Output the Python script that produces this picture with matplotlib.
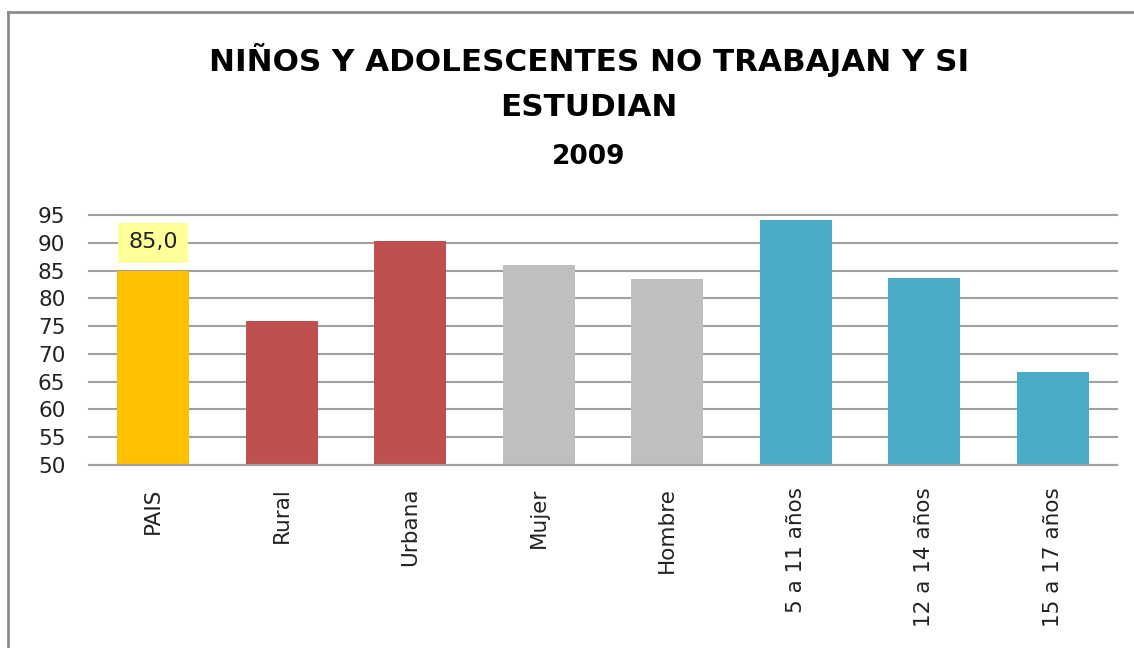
import matplotlib
matplotlib.use("Agg")
import matplotlib.pyplot as plt
from matplotlib.lines import Line2D

categories = ["PAIS", "Rural", "Urbana", "Mujer", "Hombre", "5 a 11 años", "12 a 14 años", "15 a 17 años"]
values = [85.0, 75.9, 90.4, 86.0, 83.5, 94.1, 83.7, 66.7]
colors = ["#FFC000", "#C0504D", "#C0504D", "#BFBFBF", "#BFBFBF", "#4BACC6", "#4BACC6", "#4BACC6"]
yticks = [50, 55, 60, 65, 70, 75, 80, 85, 90, 95]
title_lines = ["NIÑOS Y ADOLESCENTES NO TRABAJAN Y SI", "ESTUDIAN", "2009"]

W, H = 1134, 648
fig = plt.figure(figsize=(W / 100, H / 100), dpi=100)
fig.patch.set_facecolor("white")

ax = fig.add_axes([89 / W, 1 - 465 / H, (1117 - 89) / W, (465 - 215) / H])
x = list(range(len(categories)))
ax.bar(x, values, width=0.56, color=colors, zorder=3)
ax.set_xlim(-0.5, len(categories) - 0.5)
ax.set_ylim(50, 95)
ax.set_yticks(yticks)
ax.set_yticklabels([str(t) for t in yticks], fontsize=15.5, color="#222222", family="DejaVu Sans")
ax.set_xticks(x)
ax.set_xticklabels(categories, rotation=90, fontsize=15.5, color="#222222", family="DejaVu Sans",
                   va="top", ha="center")
ax.tick_params(axis="y", length=0, pad=17)
ax.tick_params(axis="x", length=0, pad=16)
ax.yaxis.grid(True, color="#A0A0A0", linewidth=1.5, zorder=0)
for gl in ax.get_ygridlines():
    gl.set_clip_on(False)
for s in ["top", "right", "left"]:
    ax.spines[s].set_visible(False)
ax.spines["bottom"].set_color("#A0A0A0")
ax.spines["bottom"].set_linewidth(1.5)
ax.spines["bottom"].set_zorder(4)

# data label for PAIS
ax.text(x[0], values[0] + 5.05, f"{values[0]:.1f}".replace(".", ","), ha="center", va="center",
        fontsize=16, color="#222222", family="DejaVu Sans", zorder=5,
        bbox=dict(boxstyle="square,pad=0.45", facecolor="#FFFF99", edgecolor="none"))

title_font = "DejaVu Sans"
fig.text(589 / W, 1 - 60 / H, title_lines[0], ha="center", va="center", fontsize=22.3,
         fontweight="bold", family=title_font)
fig.text(589 / W, 1 - 108 / H, title_lines[1], ha="center", va="center", fontsize=22.3,
         fontweight="bold", family=title_font)
fig.text(589 / W, 1 - 157 / H, title_lines[2], ha="center", va="center", fontsize=19,
         fontweight="bold", family=title_font)

# outer frame (left and top edges visible)
fig.add_artist(Line2D([8 / W, 8 / W], [0, 1 - 12 / H], color="#8C8C8C", linewidth=2, transform=fig.transFigure))
fig.add_artist(Line2D([8 / W, 1], [1 - 12 / H, 1 - 12 / H], color="#8C8C8C", linewidth=2, transform=fig.transFigure))

fig.savefig("out.png", dpi=100)
